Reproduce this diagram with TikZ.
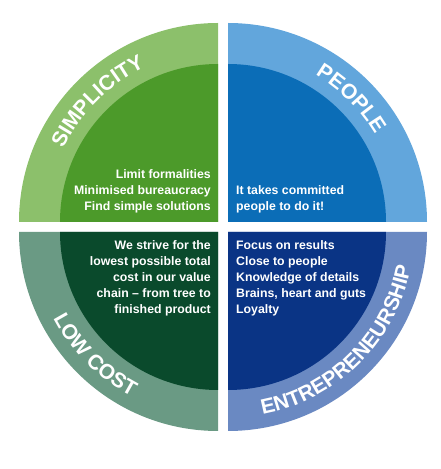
\documentclass[tikz,border=0pt]{standalone}
\usepackage{fontspec}
\setmainfont{Liberation Sans}
\usepackage{xcolor}
\usepackage{tikz}
\usetikzlibrary{decorations.text}
\definecolor{simpring}{HTML}{8CC06B}
\definecolor{simpfill}{HTML}{4C9A2A}
\definecolor{peopring}{HTML}{62A6DC}
\definecolor{peopfill}{HTML}{0B6DB7}
\definecolor{costring}{HTML}{6A9A84}
\definecolor{costfill}{HTML}{0A4A2C}
\definecolor{entring}{HTML}{6A89C2}
\definecolor{entfill}{HTML}{0A3485}
\newcommand{\ringfont}{\fontsize{21}{21}\selectfont\bfseries}

\begin{document}
\begin{tikzpicture}[x=1pt,y=1pt,
   txt/.style={text=white,inner sep=0pt,font=\fontsize{12.3}{16.2}\selectfont\bfseries},
   ring/.style={decorate,decoration={text along path,text align=center,text color=white}}]
  \useasboundingbox (0,0) rectangle (440,469);
  \coordinate (tl) at (218,247);
  \coordinate (tr) at (228,247);
  \coordinate (bl) at (218,237);
  \coordinate (br) at (228,237);
  % the four quarters
  \fill[simpring] (tl) -- ([shift={(180:199)}]tl) arc[start angle=180,end angle=90,radius=199] -- cycle;
  \fill[simpfill] (tl) -- ([shift={(180:158)}]tl) arc[start angle=180,end angle=90,radius=158] -- cycle;
  \fill[peopring] (tr) -- ([shift={(90:199)}]tr) arc[start angle=90,end angle=0,radius=199] -- cycle;
  \fill[peopfill] (tr) -- ([shift={(90:158)}]tr) arc[start angle=90,end angle=0,radius=158] -- cycle;
  \fill[costring] (bl) -- ([shift={(180:199)}]bl) arc[start angle=180,end angle=270,radius=199] -- cycle;
  \fill[costfill] (bl) -- ([shift={(180:158)}]bl) arc[start angle=180,end angle=270,radius=158] -- cycle;
  \fill[entring] (br) -- ([shift={(270:199)}]br) arc[start angle=270,end angle=360,radius=199] -- cycle;
  \fill[entfill] (br) -- ([shift={(270:158)}]br) arc[start angle=270,end angle=360,radius=158] -- cycle;
  % headings on the ring
  \path[ring,decoration={text={|\ringfont|SIMPLICITY}}]
    ([shift={(180:171)}]tl) arc[start angle=180,end angle=90,radius=171];
  \path[ring,decoration={text={|\ringfont|PEOPLE}}]
    ([shift={(90:171)}]tr) arc[start angle=90,end angle=0,radius=171];
  \path[ring,decoration={text={|\ringfont|LOW COST}}]
    ([shift={(180:186)}]bl) arc[start angle=180,end angle=270,radius=186];
  \path[ring,decoration={text={|\ringfont|ENTREPRENEURSHIP}}]
    ([shift={(270:186)}]br) arc[start angle=270,end angle=360,radius=186];
  % texts inside
  \node[txt,anchor=north east,align=right] (simptxt) at (211,300)
       {Limit formalities\\Minimised bureaucracy\\Find simple solutions};
  \node[txt,anchor=north west,align=left] (peoptxt) at (236,284)
       {It takes committed\\people to do it!};
  \node[txt,anchor=north east,align=right] (costtxt) at (211,229)
       {We strive for the\\lowest possible total\\cost in our value\\chain -- from tree to\\finished product};
  \node[txt,anchor=north west,align=left] (enttxt) at (236,229)
       {Focus on results\\Close to people\\Knowledge of details\\Brains, heart and guts\\Loyalty};
\end{tikzpicture}
\end{document}
